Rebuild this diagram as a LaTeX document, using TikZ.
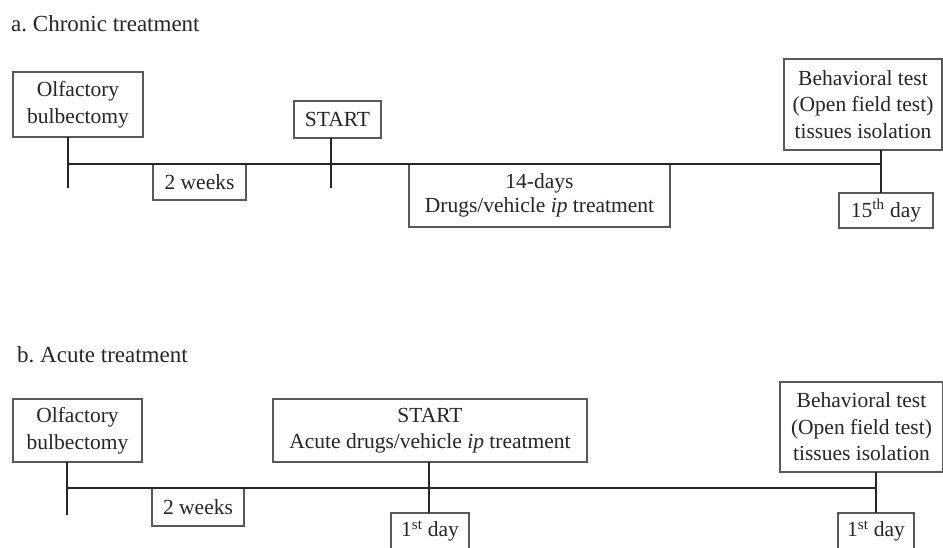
\documentclass[tikz,border=0pt]{standalone}
\usepackage{fontspec}
\setmainfont{Liberation Serif}
\frenchspacing
\begin{document}
\begin{tikzpicture}[x=1pt,y=-1pt,
  box/.style={draw=black!65,line width=1.1pt,inner sep=0pt,align=center,
    font=\fontsize{21.5}{26.5}\selectfont,text=black!85},
  tline/.style={draw=black!85,line width=1.6pt},
  ttl/.style={anchor=base west,inner sep=0pt,font=\fontsize{23}{26}\selectfont,text=black!85}]
\clip (0,0) rectangle (943,547);
\fill[white] (0,0) rectangle (943,547);
% ---------- a. Chronic treatment ----------
\node[ttl] (titleA) at (11,31) {a. Chronic treatment};
\node[box,minimum width=130pt,minimum height=65pt] (olfA) at (78,104.5) {Olfactory\\bulbectomy};
\node[box,minimum width=87pt,minimum height=37pt] (startA) at (337.5,119.5) {START};
\node[box,minimum width=93pt,minimum height=36pt] (wkA) at (199.5,182) {2 weeks};
\node[box,minimum width=261pt,minimum height=63pt] (drugA) at (539.5,195.5) {\raisebox{-2pt}{14-days}\\Drugs/vehicle \textit{ip} treatment};
\node[box,minimum width=158pt,minimum height=91pt] (behA) at (863,104.5) {Behavioral test\\(Open field test)\\tissues isolation};
\node[box,minimum width=94pt,minimum height=35pt] (dayA) at (886,210.5) {15\textsuperscript{th} day};
\coordinate (a1t) at (68,137);
\coordinate (a1m) at (68,164);
\coordinate (a1b) at (68,188);
\coordinate (a2t) at (331,138);
\coordinate (a2b) at (331,188);
\coordinate (a3t) at (881,150);
\coordinate (a3m) at (881,164);
\coordinate (a3b) at (881,193);
\draw[tline] (a1t) -- (a1b);
\draw[tline] (a1m) -- (a3m);
\draw[tline] (a2t) -- (a2b);
\draw[tline] (a3t) -- (a3b);
% ---------- b. Acute treatment ----------
\node[ttl] (titleB) at (17,362) {b. Acute treatment};
\node[box,minimum width=129pt,minimum height=63pt] (olfB) at (77.5,430.5) {Olfactory\\bulbectomy};
\node[box,minimum width=92pt,minimum height=38pt] (wkB) at (198,507) {2 weeks};
\node[box,minimum width=314pt,minimum height=63pt] (startB) at (430,430.5) {START\\Acute drugs/vehicle \textit{ip} treatment};
\node[box,minimum width=78pt,minimum height=36pt] (dayB1) at (430,531) {1\textsuperscript{st} day};
\node[box,minimum width=163pt,minimum height=90pt] (behB) at (861.5,427) {Behavioral test\\(Open field test)\\tissues isolation};
\node[box,minimum width=76pt,minimum height=36pt] (dayB2) at (876,531) {1\textsuperscript{st} day};
\coordinate (b1t) at (67,462);
\coordinate (b1m) at (67,488);
\coordinate (b1b) at (67,515);
\coordinate (b2t) at (429,462);
\coordinate (b2b) at (429,513);
\coordinate (b3t) at (876,472);
\coordinate (b3m) at (876,488);
\coordinate (b3b) at (876,513);
\draw[tline] (b1t) -- (b1b);
\draw[tline] (b1m) -- (b3m);
\draw[tline] (b2t) -- (b2b);
\draw[tline] (b3t) -- (b3b);
\end{tikzpicture}
\end{document}
